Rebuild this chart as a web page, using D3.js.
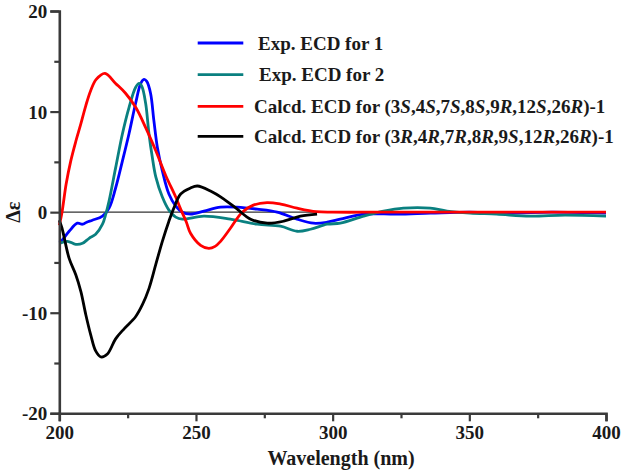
<!DOCTYPE html>
<html>
<head>
<meta charset="utf-8">
<script src="https://cdn.jsdelivr.net/npm/d3@7"></script>
<style>
  html, body { margin: 0; padding: 0; background: #fff; }
  svg { display: block; }
  text { font-family: "Liberation Serif", "Times New Roman", serif; font-weight: bold; fill: #1a1a1a; }
</style>
</head>
<body>
<script>
// ---- data ----
const xTicks = [200, 250, 300, 350, 400];
const yTicks = [-20, -10, 0, 10, 20];

const exp1X = [200, 201, 203.6, 206.6, 208.5, 210, 212.1, 215.8, 218.2, 220.6, 223.1, 225.5, 227.9, 229.8, 231, 232, 233.4, 234.6, 235.9, 237.7, 240.1, 242.6, 245, 248, 252.9, 259, 265, 272.4, 279.7, 287, 293, 298, 302.8, 311.3, 323.5, 335.7, 350, 365, 380, 400];
const exp1Y = [-3.0, -2.8, -1.9, -1.1, -1.2, -1.0, -0.8, -0.4, 0.4, 2.4, 5.1, 7.8, 10.8, 12.8, 13.2, 13.0, 11.8, 9.1, 6.4, 4.1, 1.8, 0.6, 0.0, -0.2, 0.1, 0.5, 0.5, 0.3, 0.0, -0.7, -1.1, -1.0, -0.7, -0.2, -0.2, -0.1, 0.0, -0.1, 0.0, -0.1];

const exp2X = [200, 203, 206, 208.5, 210.9, 213.3, 215.8, 217, 218.2, 220.6, 223.1, 225.5, 227.9, 229.2, 230.2, 231.6, 232.8, 234, 235.3, 237.7, 240.1, 242.6, 245, 252.9, 262.6, 272.4, 280.9, 287, 291.9, 298, 302.8, 311.3, 318.6, 325.9, 335.7, 341.8, 350.3, 360, 372.2, 385, 400];
const exp2Y = [-3.1, -2.9, -3.2, -3.1, -2.6, -2.2, -1.2, -0.2, 1.1, 4.4, 7.8, 10.4, 12.4, 12.8, 12.5, 10.8, 7.8, 5.5, 3.5, 1.5, 0.2, -0.5, -0.7, -0.4, -0.7, -1.2, -1.4, -1.9, -1.7, -1.2, -1.1, -0.4, 0.1, 0.4, 0.4, 0.1, -0.1, -0.2, -0.4, -0.3, -0.4];

const calcSX = [200, 201, 202.5, 204.2, 206, 207.9, 209.7, 211.5, 213.5, 216.7, 220.6, 224.3, 228, 231.6, 235.3, 239, 242.6, 244.4, 246.5, 248, 251.7, 254.7, 257, 259, 262.6, 266.9, 271, 276, 281, 287, 294, 300, 320, 350, 400];
const calcSY = [-1.3, 0.0, 2.8, 5.1, 7.0, 8.8, 10.6, 12.1, 13.2, 13.8, 12.8, 11.8, 10.4, 8.4, 6.1, 3.6, 1.5, 0.3, -1.0, -2.1, -3.3, -3.6, -3.4, -2.9, -1.6, 0.0, 0.7, 0.95, 0.8, 0.4, 0.05, 0.0, 0.0, 0.0, 0.0];

const calcRX = [200, 201, 203.6, 206, 207.9, 209.7, 211.5, 213.3, 215.2, 217.6, 220.6, 223.7, 227.9, 230.4, 232.8, 235.3, 237.7, 240.1, 241.9, 244.4, 248, 250.5, 255.3, 260.2, 265.1, 270, 276.1, 282.1, 288.2, 294.3];
const calcRY = [-0.8, -1.6, -4.6, -6.2, -7.9, -10.2, -12.2, -13.8, -14.4, -14.1, -12.6, -11.6, -10.4, -9.2, -7.6, -5.2, -2.9, -0.9, 0.4, 1.8, 2.4, 2.6, 2.1, 1.3, 0.3, -0.7, -1.1, -0.9, -0.4, -0.2];

const seriesNames = ["exp1", "exp2", "calcS", "calcR"];
const seriesColors = ["#0000ff", "#0a8080", "#ff0000", "#000000"];

// ---- layout ----
const W = 630, H = 473;
const svg = d3.select("body").append("svg").attr("width", W).attr("height", H);

const x = d3.scaleLinear().domain([200, 400]).range([59.3, 606]);
const y = d3.scaleLinear().domain([-20, 20]).range([413.3, 11]);

const axisColor = "#3a3a3a";

// zero line
svg.append("line")
  .attr("x1", x(200)).attr("x2", x(400))
  .attr("y1", y(0)).attr("y2", y(0))
  .attr("stroke", "#333").attr("stroke-width", 1.2);

// series
const line = d3.line().x(d => x(d[0])).y(d => y(d[1])).curve(d3.curveCatmullRom.alpha(0.5));
const allX = [exp1X, exp2X, calcSX, calcRX];
const allY = [exp1Y, exp2Y, calcSY, calcRY];
seriesNames.forEach((n, i) => {
  const pts = allX[i].map((v, j) => [v, allY[i][j]]);
  svg.append("path").datum(pts)
    .attr("class", "series " + n)
    .attr("d", line)
    .attr("fill", "none")
    .attr("stroke", seriesColors[i])
    .attr("stroke-width", 2.8)
    .attr("stroke-linejoin", "round");
});

// axes
const xAxisG = svg.append("g").attr("transform", `translate(0,${y(-20)})`);
xAxisG.call(d3.axisBottom(x).tickValues(d3.range(200, 401, 25)).tickSize(8).tickFormat(d => xTicks.includes(d) ? d : ""));
const yAxisG = svg.append("g").attr("transform", `translate(${x(200)},0)`);
yAxisG.call(d3.axisLeft(y).tickValues(d3.range(-20, 21, 5)).tickSize(9).tickFormat(d => yTicks.includes(d) ? d : ""));

[xAxisG, yAxisG].forEach(g => {
  g.select(".domain").attr("stroke", axisColor).attr("stroke-width", 2.6);
  g.selectAll(".tick line").attr("stroke", axisColor).attr("stroke-width", 2.2);
  g.selectAll("text").attr("font-family", "Liberation Serif, serif").attr("font-weight", "bold")
    .attr("font-size", 19).attr("fill", "#1a1a1a");
});
// minor ticks shorter
xAxisG.selectAll(".tick").filter(d => !xTicks.includes(d)).select("line").attr("y2", 5);
yAxisG.selectAll(".tick").filter(d => !yTicks.includes(d)).select("line").attr("x2", -5);
xAxisG.selectAll(".tick text").attr("dy", null).attr("y", 26);
yAxisG.selectAll(".tick text").attr("x", -12).attr("dy", "0.34em");

// axis titles
svg.append("text").attr("x", 341).attr("y", 465).attr("text-anchor", "middle")
  .attr("font-size", 20).text("Wavelength (nm)");
svg.append("text").attr("transform", `translate(20,${y(0)}) rotate(-90)`).attr("text-anchor", "middle")
  .attr("font-size", 20).text("Δε");

// legend
const legendRows = [
  { color: seriesColors[0], ly: 43, tx: 258, parts: [["Exp. ECD for 1", false]] },
  { color: seriesColors[1], ly: 74.7, tx: 259, parts: [["Exp. ECD for 2", false]] },
  { color: seriesColors[2], ly: 106.3, tx: 254, parts: [["Calcd. ECD for (3", false], ["S", true], [",4", false], ["S", true], [",7", false], ["S", true], [",8", false], ["S", true], [",9", false], ["R", true], [",12", false], ["S", true], [",26", false], ["R", true], [")-1", false]] },
  { color: seriesColors[3], ly: 136.3, tx: 254, parts: [["Calcd. ECD for (3", false], ["R", true], [",4", false], ["R", true], [",7", false], ["R", true], [",8", false], ["R", true], [",9", false], ["S", true], [",12", false], ["R", true], [",26", false], ["R", true], [")-1", false]] }
];
const lg = svg.append("g").attr("class", "legend");
legendRows.forEach(r => {
  lg.append("line").attr("x1", 197.7).attr("x2", 243.3).attr("y1", r.ly).attr("y2", r.ly)
    .attr("stroke", r.color).attr("stroke-width", 2.8);
  const t = lg.append("text").attr("x", r.tx).attr("y", r.ly + 6.5).attr("font-size", 19);
  r.parts.forEach(p => {
    t.append("tspan").attr("font-style", p[1] ? "italic" : "normal").text(p[0]);
  });
});
</script>
</body>
</html>
